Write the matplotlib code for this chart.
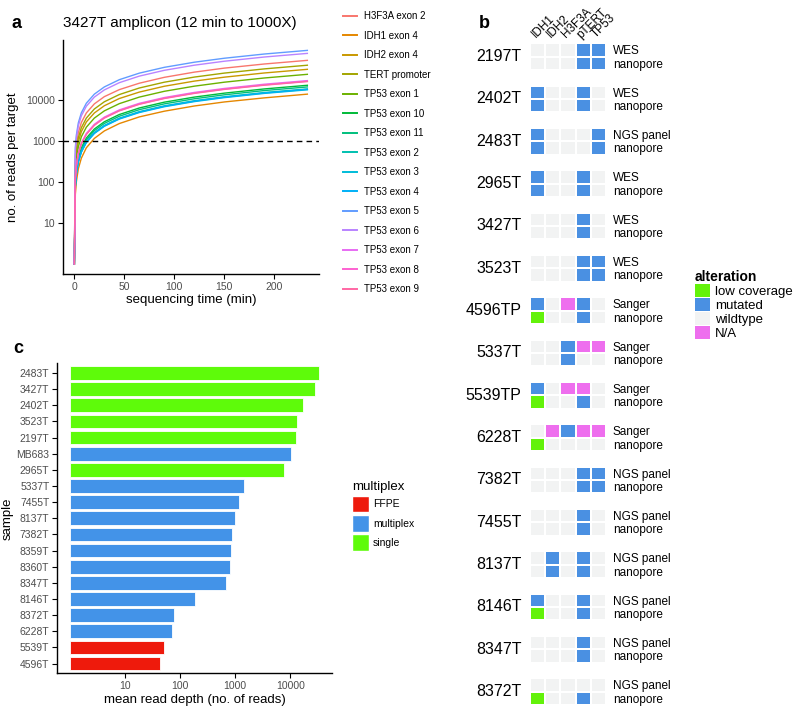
import matplotlib
matplotlib.use("Agg")
import numpy as np
import matplotlib.pyplot as plt
from matplotlib.colors import ListedColormap, BoundaryNorm
from matplotlib.patches import Patch
from matplotlib.ticker import FixedLocator, NullLocator, FuncFormatter

plt.rcParams["font.family"] = ["Liberation Sans", "DejaVu Sans"]

# ---- panel a: reads per target over sequencing time (3427T) ----
minutes = [0, 1, 2, 4, 7, 12, 20, 30, 45, 65, 90, 120, 150, 190, 233]
targets = ["H3F3A exon 2", "IDH1 exon 4", "IDH2 exon 4", "TERT promoter",
           "TP53 exon 1", "TP53 exon 10", "TP53 exon 11", "TP53 exon 2",
           "TP53 exon 3", "TP53 exon 4", "TP53 exon 5", "TP53 exon 6",
           "TP53 exon 7", "TP53 exon 8", "TP53 exon 9"]
h3f3a_e2 = [1, 420, 800, 1600, 2800, 4800, 8000, 12000, 17800, 25500, 35500, 47500, 59500, 75000, 92000]
idh1_e4 = [1, 50, 100, 210, 380, 680, 1150, 1750, 2650, 3850, 5300, 7100, 8900, 11200, 13800]
idh2_e4 = [1, 250, 480, 960, 1680, 2900, 4800, 7200, 10800, 15500, 21500, 28700, 35800, 45300, 55600]
tert_prom = [1, 310, 600, 1200, 2100, 3600, 6000, 9000, 13500, 19500, 27000, 36000, 45000, 57000, 70000]
tp53_e1 = [1, 185, 360, 720, 1260, 2160, 3600, 5400, 8100, 11700, 16200, 21600, 27000, 34200, 42000]
tp53_e10 = [1, 97, 195, 390, 680, 1170, 1950, 2930, 4400, 6350, 8800, 11700, 14600, 18500, 22700]
tp53_e11 = [1, 89, 178, 355, 620, 1065, 1780, 2670, 4000, 5780, 8000, 10650, 13300, 16900, 20700]
tp53_e2 = [1, 80, 160, 320, 555, 955, 1590, 2380, 3580, 5160, 7150, 9530, 11900, 15100, 18500]
tp53_e3 = [1, 76, 152, 305, 530, 910, 1515, 2270, 3410, 4920, 6810, 9080, 11350, 14400, 17600]
tp53_e4 = [1, 78, 156, 312, 545, 935, 1555, 2330, 3500, 5050, 7000, 9320, 11650, 14750, 18100]
tp53_e5 = [1, 700, 1380, 2760, 4840, 8300, 13800, 20700, 31100, 44900, 62200, 82900, 103600, 131300, 161000]
tp53_e6 = [1, 590, 1170, 2340, 4090, 7000, 11700, 17500, 26300, 38000, 52600, 70100, 87600, 111000, 136000]
tp53_e7 = [1, 127, 254, 508, 890, 1520, 2540, 3800, 5700, 8250, 11400, 15200, 19000, 24100, 29500]
tp53_e8 = [1, 122, 245, 490, 855, 1465, 2440, 3670, 5500, 7950, 11000, 14700, 18300, 23200, 28500]
tp53_e9 = [1, 120, 240, 480, 840, 1440, 2400, 3600, 5400, 7800, 10800, 14400, 18000, 22800, 28000]
depths = [h3f3a_e2, idh1_e4, idh2_e4, tert_prom, tp53_e1, tp53_e10, tp53_e11, tp53_e2,
          tp53_e3, tp53_e4, tp53_e5, tp53_e6, tp53_e7, tp53_e8, tp53_e9]
line_colors = ["#F8766D", "#E58700", "#C99800", "#A3A500", "#6BB100", "#00BA38",
               "#00BF7D", "#00C0AF", "#00BCD8", "#00B0F6", "#619CFF", "#B983FF",
               "#E76BF3", "#FD61D1", "#FF67A4"]

# ---- panel b: alteration calls per sample ----
genes = ["IDH1", "IDH2", "H3F3A", "pTERT", "TP53"]
samples_b = ["2197T", "2402T", "2483T", "2965T", "3427T", "3523T", "4596TP", "5337T",
             "5539TP", "6228T", "7382T", "7455T", "8137T", "8146T", "8347T", "8372T"]
methods = ["WES", "WES", "NGS panel", "WES", "WES", "WES", "Sanger", "Sanger",
           "Sanger", "Sanger", "NGS panel", "NGS panel", "NGS panel", "NGS panel",
           "NGS panel", "NGS panel"]
# L = low coverage, M = mutated, W = wildtype, N = N/A
method_calls = ["WWWMM", "MWWMW", "MWWWM", "MWWMW", "WWWMW", "WWWMM", "MWNMW", "WWMNN",
                "MWNNW", "WNMNN", "WWWMM", "WWWMW", "WMWMW", "MWWMW", "WWWMW", "WWWWW"]
nanopore_calls = ["WWWMM", "MWWMW", "MWWWM", "MWWMW", "WWWMW", "WWWMM", "LWWMW", "WWMWW",
                  "LWWMW", "LWWWW", "WWWMM", "WWWMW", "WMWMW", "LWWMW", "WWWMW", "LWWMW"]
alterations = ["low coverage", "mutated", "wildtype", "N/A"]
alt_codes = {"L": 0, "M": 1, "W": 2, "N": 3}
alt_colors = ["#63F20A", "#4A90E2", "#F2F3F3", "#EE6EEE"]

# ---- panel c: mean read depth ----
samples_c = ["2483T", "3427T", "2402T", "3523T", "2197T", "MB683", "2965T", "5337T",
             "7455T", "8137T", "7382T", "8359T", "8360T", "8347T", "8146T", "8372T",
             "6228T", "5539T", "4596T"]
mean_depth = [33800, 28000, 17000, 13200, 12900, 10300, 7700, 1420, 1200, 1000, 860,
              830, 800, 680, 188, 79, 70, 51, 43]
multiplex = ["single", "single", "single", "single", "single", "multiplex", "single",
             "multiplex", "multiplex", "multiplex", "multiplex", "multiplex", "multiplex",
             "multiplex", "multiplex", "multiplex", "multiplex", "FFPE", "FFPE"]
mp_levels = ["FFPE", "multiplex", "single"]
mp_colors = {"FFPE": "#EE1A0C", "multiplex": "#4393E8", "single": "#5EFB0A"}

W, H = 798, 706
fig = plt.figure(figsize=(W / 100, H / 100), dpi=100)


def box(x0, y0, x1, y1):
    return [x0 / W, 1 - y1 / H, (x1 - x0) / W, (y1 - y0) / H]


def classic(ax):
    for s in ["top", "right"]:
        ax.spines[s].set_visible(False)
    for s in ["left", "bottom"]:
        ax.spines[s].set_linewidth(1.0)
    ax.tick_params(length=3.5, width=0.8, labelsize=7.5, labelcolor="#4D4D4D", pad=2)


plain = FuncFormatter(lambda v, p: f"{v:.0f}")

# panel a
ax_a = fig.add_axes(box(62.7, 40, 319, 274))
for name, vals, col in zip(targets, depths, line_colors):
    ax_a.plot(minutes, vals, color=col, lw=1.0, label=name)
ax_a.axhline(1000, color="black", lw=1.0, linestyle=(0, (4, 3)))
ax_a.set_yscale("log")
ax_a.set_xlim(-11.65, 244.65)
ax_a.set_ylim(10 ** -0.245, 10 ** 5.46)
ax_a.yaxis.set_major_locator(FixedLocator([10, 100, 1000, 10000]))
ax_a.yaxis.set_minor_locator(NullLocator())
ax_a.yaxis.set_major_formatter(plain)
ax_a.set_xticks([0, 50, 100, 150, 200])
classic(ax_a)
ax_a.set_xlabel("sequencing time (min)", fontsize=9.5, labelpad=2)
ax_a.set_ylabel("no. of reads per target", fontsize=9.5)
ax_a.yaxis.set_label_coords((19 - 62.7) / 256.3, 0.5)
leg_a = ax_a.legend(loc="upper left", bbox_to_anchor=(343 / W, 1 - 11 / H),
                    bbox_transform=fig.transFigure, frameon=False, fontsize=7,
                    handlelength=1.4, handletextpad=0.8, labelspacing=0.98,
                    borderpad=0, borderaxespad=0)
for ln in leg_a.get_lines():
    ln.set_linewidth(1.4)
fig.text(12 / W, 1 - 23 / H, "a", fontsize=13, weight="bold", va="center")
fig.text(63 / W, 1 - 23 / H, "3427T amplicon (12 min to 1000X)", fontsize=11, va="center")

# panel b
cmap = ListedColormap(alt_colors)
norm = BoundaryNorm([-0.5, 0.5, 1.5, 2.5, 3.5], cmap.N)
pitch = 42.33
for i, (samp, meth) in enumerate(zip(samples_b, methods)):
    top = 43.3 + i * pitch
    ax = fig.add_axes(box(530, top, 606, top + 26.7))
    codes = np.array([[alt_codes[c] for c in method_calls[i]],
                      [alt_codes[c] for c in nanopore_calls[i]]])
    ax.pcolormesh(codes, cmap=cmap, norm=norm, edgecolors="white", linewidth=1.1)
    ax.set_xlim(0, 5)
    ax.set_ylim(2, 0)
    for s in ax.spines.values():
        s.set_visible(False)
    ax.yaxis.tick_right()
    ax.set_yticks([0.5, 1.5])
    ax.set_yticklabels([meth, "nanopore"], fontsize=8.5)
    ax.tick_params(axis="y", length=0, pad=5)
    ax.text(-0.11, 0.5, samp, transform=ax.transAxes, ha="right", va="center", fontsize=11.5)
    if i == 0:
        ax.xaxis.tick_top()
        ax.set_xticks(np.arange(5) + 0.5)
        ax.set_xticklabels(genes, rotation=45, ha="left", va="bottom",
                           rotation_mode="anchor", fontsize=8.5)
        ax.tick_params(axis="x", length=0, pad=2)
    else:
        ax.set_xticks([])
fig.text(479 / W, 1 - 23 / H, "b", fontsize=13, weight="bold", va="center")
leg_b = [Patch(facecolor=c, edgecolor="none") for c in alt_colors]
fig.legend(leg_b, alterations, loc="upper left", bbox_to_anchor=(695 / W, 1 - 270 / H),
           frameon=False, fontsize=9.5, title="alteration",
           title_fontproperties={"weight": "bold", "size": 10},
           handlelength=1.14, handleheight=1.14, handletextpad=0.4,
           labelspacing=0.0, borderpad=0, borderaxespad=0, alignment="left")

# panel c
ax_c = fig.add_axes(box(57, 363.3, 332, 673.3))
ypos = np.arange(len(samples_c))
bar_cols = [mp_colors[m] for m in multiplex]
ax_c.barh(ypos, np.array(mean_depth) - 1, left=1, height=0.85, color=bar_cols,
          edgecolor="white", linewidth=0.6)
ax_c.set_xscale("log")
ax_c.set_xlim(10 ** -0.236, 10 ** 4.76)
ax_c.set_ylim(len(samples_c) - 0.4, -0.6)
ax_c.set_yticks(ypos)
ax_c.set_yticklabels(samples_c)
ax_c.xaxis.set_major_locator(FixedLocator([10, 100, 1000, 10000]))
ax_c.xaxis.set_minor_locator(NullLocator())
ax_c.xaxis.set_major_formatter(plain)
classic(ax_c)
ax_c.set_xlabel("mean read depth (no. of reads)", fontsize=9.5, labelpad=2)
ax_c.set_ylabel("sample", fontsize=9.5)
ax_c.yaxis.set_label_coords((14 - 57) / 275, 0.5)
fig.text(13 / W, 1 - 348 / H, "c", fontsize=13, weight="bold", va="center")
leg_c = [Patch(facecolor=mp_colors[m], edgecolor="white") for m in mp_levels]
fig.legend(leg_c, mp_levels, loc="upper left", bbox_to_anchor=(352 / W, 1 - 481 / H),
           frameon=False, fontsize=7.5, title="multiplex", title_fontsize=9.5,
           handlelength=1.6, handleheight=2.1, handletextpad=0.4,
           labelspacing=0.25, borderpad=0, borderaxespad=0, alignment="left")

fig.savefig("out.png", dpi=100)
